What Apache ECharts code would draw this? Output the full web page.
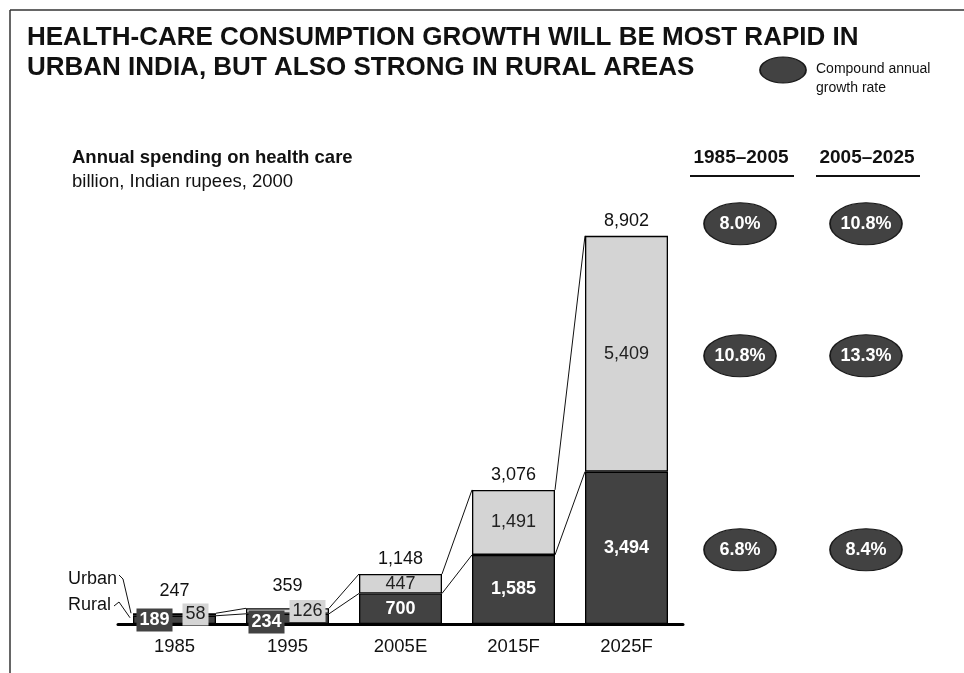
<!DOCTYPE html>
<html>
<head>
<meta charset="utf-8">
<script src="https://cdn.jsdelivr.net/npm/echarts@6/dist/echarts.min.js"></script>
<style>
  html, body { margin: 0; padding: 0; background: #fff; }
  #chart { width: 964px; height: 673px; }
</style>
</head>
<body>
<div id="chart"></div>
<script>
// Annual health-care spending in India, billion rupees (2000 prices)
const categories = ['1985', '1995', '2005E', '2015F', '2025F'];
const rural = [189, 234, 700, 1585, 3494];
const urban = [58, 126, 447, 1491, 5409];
const totals = [247, 359, 1148, 3076, 8902];

// Compound annual growth rates by period
const periods = ['1985–2005', '2005–2025'];
const growthTotal = ['8.0%', '10.8%'];
const growthUrban = ['10.8%', '13.3%'];
const growthRural = ['6.8%', '8.4%'];

const FONT = '"Liberation Sans", Arial, sans-serif';
const DARK = '#424242';
const LIGHT = '#d4d4d4';
const BAR_W = 83;

const fmt = v => v.toLocaleString('en-US');

const chart = echarts.init(document.getElementById('chart'));

// Small bars get their labels as boxes placed beside each other
const smallCount = 2;
const ruralData = rural.map((v, i) => {
  if (i >= smallCount) return v;
  return {
    value: v,
    label: {
      backgroundColor: DARK, padding: [3, 3, 2, 3],
      offset: i === 0 ? [-20, 0] : [-21, 3]
    }
  };
});
const urbanData = urban.map((v, i) => {
  if (i >= smallCount) return v;
  return {
    value: v,
    label: {
      backgroundColor: LIGHT, padding: [2, 3, 2, 3],
      offset: i === 0 ? [21, 0] : [20, 0]
    }
  };
});

// Connector lines and total labels, positioned from the same scale
const overlayData = categories.map((c, i) => [i, rural[i], rural[i] + urban[i], totals[i]]);

function renderOverlay(params, api) {
  const i = api.value(0);
  const r = api.value(1);
  const top = api.value(2);
  const half = BAR_W / 2;
  const base = api.coord([i, 0]);
  const pTop = api.coord([i, top]);
  const children = [];
  const lift = (base[1] - pTop[1]) < 20 ? 13 : 6;
  children.push({
    type: 'text',
    style: {
      text: fmt(totals[i]),
      x: pTop[0], y: pTop[1] - lift,
      align: 'center', verticalAlign: 'bottom',
      font: '18px ' + FONT, fill: '#111'
    },
    z2: 20
  });
  if (i < categories.length - 1) {
    const nTop = api.coord([i + 1, rural[i + 1] + urban[i + 1]]);
    const nR = api.coord([i + 1, rural[i + 1]]);
    const pR = api.coord([i, r]);
    children.push({
      type: 'line',
      shape: { x1: pTop[0] + half, y1: pTop[1], x2: nTop[0] - half, y2: nTop[1] },
      style: { stroke: '#111', lineWidth: 1 }
    });
    children.push({
      type: 'line',
      shape: { x1: pR[0] + half, y1: pR[1], x2: nR[0] - half, y2: nR[1] },
      style: { stroke: '#111', lineWidth: 1 }
    });
  }
  return { type: 'group', children };
}

chart.setOption({
  animation: false,
  backgroundColor: '#fff',
  grid: { left: 118, right: 281, top: 188, bottom: 49 },
  xAxis: {
    type: 'category',
    data: categories,
    axisLine: { lineStyle: { color: '#000', width: 3 } },
    axisTick: { show: false },
    axisLabel: { color: '#111', fontSize: 18.5, fontFamily: FONT, margin: 13 }
  },
  yAxis: {
    type: 'value', min: 0, max: 10000,
    show: false, splitLine: { show: false }
  },
  series: [
    {
      name: 'Rural', type: 'bar', stack: 'spend', barWidth: BAR_W,
      data: ruralData,
      itemStyle: { color: DARK, borderColor: '#000', borderWidth: 1.3 },
      label: {
        show: true, position: 'inside', color: '#fff', fontWeight: 'bold',
        fontSize: 18, fontFamily: FONT, formatter: p => fmt(p.value)
      },
      z: 3
    },
    {
      name: 'Urban', type: 'bar', stack: 'spend', barWidth: BAR_W,
      data: urbanData,
      itemStyle: { color: LIGHT, borderColor: '#000', borderWidth: 1.3 },
      label: {
        show: true, position: 'inside', color: '#222',
        fontSize: 18, fontFamily: FONT, formatter: p => fmt(p.value)
      },
      z: 3
    },
    {
      type: 'custom',
      renderItem: renderOverlay,
      data: overlayData,
      z: 2,
      silent: true
    }
  ]
});

// Layout elements around the plot: title, notes and the growth-rate table
const px = v => chart.convertToPixel({ gridIndex: 0 }, [categories.length - 1, v])[1];
const last = categories.length - 1;
const rowY = [
  px(rural[last] + urban[last]) - 12,
  px(rural[last] + urban[last] / 2) + 2,
  px(rural[last] / 2) + 2
];
const rows = [growthTotal, growthUrban, growthRural];
const colX = [740, 866];
const headX = [742, 868];

function badge(x, y, rx, ry, text, fontSize) {
  const els = [{
    type: 'circle',
    x: x, y: y, scaleX: rx / ry,
    shape: { cx: 0, cy: 0, r: ry },
    style: { fill: DARK, stroke: '#1a1a1a', lineWidth: 1 }
  }];
  if (text) {
    els.push({
      type: 'text', x: x, y: y,
      style: {
        text: text, align: 'center', verticalAlign: 'middle',
        font: 'bold ' + fontSize + 'px ' + FONT, fill: '#fff'
      },
      z: 10
    });
  }
  return els;
}

const graphic = [
  { type: 'line', shape: { x1: 10, y1: 10, x2: 964, y2: 10 }, style: { stroke: '#333', lineWidth: 1.5 } },
  { type: 'line', shape: { x1: 10, y1: 10, x2: 10, y2: 673 }, style: { stroke: '#333', lineWidth: 1.5 } },
  {
    type: 'text', left: 27, top: 23,
    style: {
      text: 'HEALTH-CARE CONSUMPTION GROWTH WILL BE MOST RAPID IN\nURBAN INDIA, BUT ALSO STRONG IN RURAL AREAS',
      font: 'bold 26px ' + FONT, lineHeight: 30, fill: '#111'
    }
  },
  ...badge(783, 70, 23, 13, '', 0),
  {
    type: 'text', left: 816, top: 60,
    style: { text: 'Compound annual\ngrowth rate', font: '14px ' + FONT, lineHeight: 19, fill: '#111' }
  },
  {
    type: 'text', left: 72, top: 148,
    style: { text: 'Annual spending on health care', font: 'bold 18.5px ' + FONT, fill: '#111' }
  },
  {
    type: 'text', left: 72, top: 172,
    style: { text: 'billion, Indian rupees, 2000', font: '18.5px ' + FONT, fill: '#111' }
  },
  {
    type: 'text', left: 68, top: 570,
    style: { text: 'Urban', font: '18px ' + FONT, fill: '#111' }
  },
  {
    type: 'text', left: 68, top: 596,
    style: { text: 'Rural', font: '18px ' + FONT, fill: '#111' }
  }
];

// Leader lines from the Urban/Rural notes to the first bar
const firstX = chart.convertToPixel({ gridIndex: 0 }, [0, 0])[0] - BAR_W / 2;
const firstUrbanY = chart.convertToPixel({ gridIndex: 0 }, [0, rural[0] + urban[0]])[1];
const firstRuralY = chart.convertToPixel({ gridIndex: 0 }, [0, rural[0]])[1];
graphic.push({
  type: 'polyline',
  shape: { points: [[119, 575], [123, 579], [firstX - 2, firstUrbanY]] },
  style: { stroke: '#111', lineWidth: 1, fill: null }
});
graphic.push({
  type: 'polyline',
  shape: { points: [[114, 606], [119, 602], [firstX - 3, firstRuralY + 2]] },
  style: { stroke: '#111', lineWidth: 1, fill: null }
});

periods.forEach((p, c) => {
  graphic.push({
    type: 'text', x: headX[c] - 1, y: 158,
    style: { text: p, align: 'center', verticalAlign: 'middle', font: 'bold 19px ' + FONT, fill: '#111' }
  });
  graphic.push({
    type: 'line', shape: { x1: headX[c] - 52, y1: 176, x2: headX[c] + 52, y2: 176 },
    style: { stroke: '#111', lineWidth: 2 }
  });
  rows.forEach((row, r) => {
    graphic.push(...badge(colX[c], rowY[r], 36, 21, row[c], 18));
  });
});

chart.setOption({ graphic });
</script>
</body>
</html>
